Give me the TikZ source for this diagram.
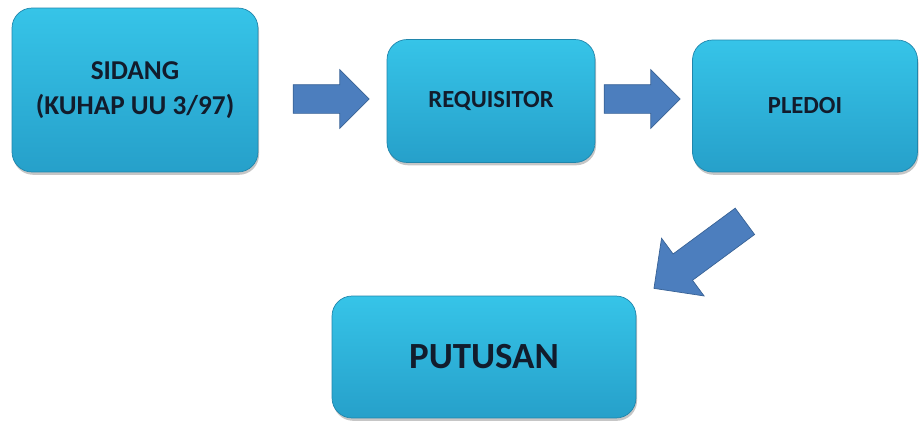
\documentclass[tikz,border=0pt]{standalone}
\usepackage{fontspec}
\setmainfont{Carlito}
\usetikzlibrary{shapes.arrows,shadows}
\definecolor{boxtop}{RGB}{54,196,232}
\definecolor{boxbot}{RGB}{38,160,202}
\definecolor{boxedge}{RGB}{32,134,172}
\definecolor{arrfill}{RGB}{76,126,190}
\definecolor{arredge}{RGB}{56,98,150}
\definecolor{txtcol}{RGB}{18,28,44}
\tikzset{b/.style={rounded corners=.4cm,top color=boxtop,bottom color=boxbot,draw=boxedge,thin,text=txtcol,align=center,
  drop shadow={shadow xshift=.6pt,shadow yshift=-1.6pt,opacity=.45}},
 arr/.style={single arrow,fill=arrfill,draw=arredge,thin,inner xsep=0pt,inner ysep=.28cm,single arrow head extend=.3cm,minimum width=1.16cm,minimum height=1.52cm}}
\begin{document}
\begin{tikzpicture}[x=.02cm,y=-.02cm]
\useasboundingbox (0,0) rectangle (919,420);
\node[b,minimum width=4.92cm,minimum height=3.28cm,font=\fontsize{15.5}{19.5}\selectfont\bfseries](sidang) at(135,90){SIDANG\\(KUHAP UU 3/97)};
\node[b,minimum width=4.16cm,minimum height=2.46cm,font=\fontsize{14}{16}\selectfont\bfseries](req) at(491,101){REQUISITOR};
\node[b,minimum width=4.5cm,minimum height=2.64cm,font=\fontsize{14}{16}\selectfont\bfseries](pledoi) at(805,106){PLEDOI};
\node[b,minimum width=6.08cm,minimum height=2.44cm,font=\fontsize{21}{24}\selectfont\bfseries](putusan) at(484,357){PUTUSAN};
% arrows between the stages
\node[arr](a1) at(324,99){};
\node[arr](a2) at(635,99){};
\node[arr,inner ysep=.32cm,minimum width=1.42cm,minimum height=2.26cm,single arrow head extend=.39cm,rotate=216.4](a3) at(706,250){};
\end{tikzpicture}
\end{document}
